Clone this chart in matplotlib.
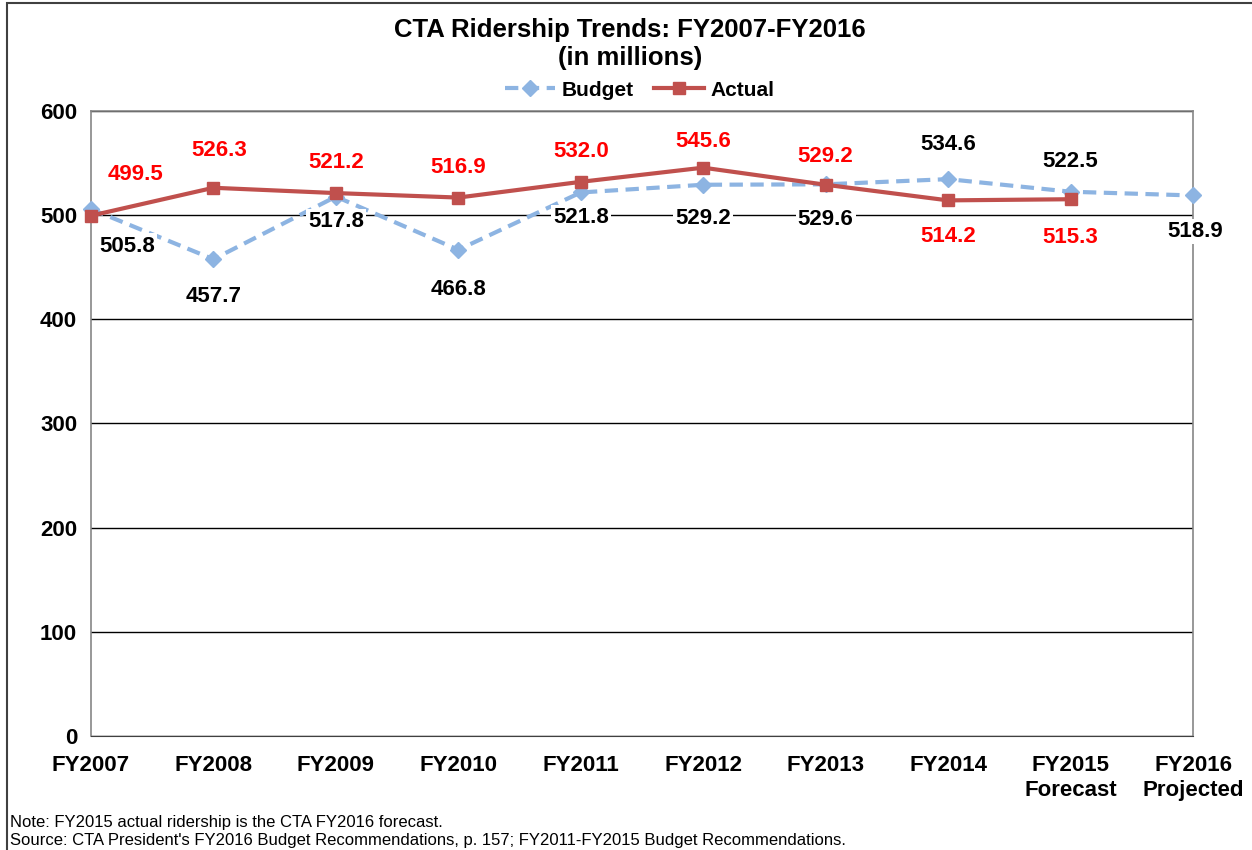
import matplotlib
matplotlib.use('Agg')
import matplotlib.pyplot as plt
from matplotlib.patches import Rectangle

plt.rcParams['font.family'] = ['Liberation Sans', 'DejaVu Sans']

# ---- data ----
years = ['FY2007', 'FY2008', 'FY2009', 'FY2010', 'FY2011', 'FY2012',
         'FY2013', 'FY2014', 'FY2015\nForecast', 'FY2016\nProjected']
budget = [505.8, 457.7, 517.8, 466.8, 521.8, 529.2, 529.6, 534.6, 522.5, 518.9]
actual = [499.5, 526.3, 521.2, 516.9, 532.0, 545.6, 529.2, 514.2, 515.3]
yticks = [0, 100, 200, 300, 400, 500, 600]

# label offsets in pixels (dx, dy), dy positive = up
budget_off = [(36, -37), (0, -37), (0, -25), (0, -40), (0, -25),
              (0, -34), (0, -35), (0, 35), (0, 30), (2, -36)]
actual_off = [(44, 41), (6, 37), (0, 31), (0, 30), (0, 30),
              (0, 26), (0, 28), (0, -36), (0, -38)]

BLUE = '#8DB4E2'
RED = '#C0504D'

fig = plt.figure(figsize=(12.52, 8.5), dpi=100)
ax = fig.add_axes([91/1252, 1 - 736/850, (1193-91)/1252, (736-111)/850])

x = list(range(len(years)))
xa = x[:len(actual)]

ax.plot(x, budget, color=BLUE, lw=3, dashes=(3.2, 1.8), marker='D',
        markersize=8, markerfacecolor=BLUE, markeredgecolor=BLUE,
        label='Budget', zorder=3, clip_on=False)
ax.plot(xa, actual, color=RED, lw=3, marker='s', markersize=9,
        markerfacecolor=RED, markeredgecolor=RED, label='Actual',
        zorder=4, clip_on=False)

box = dict(boxstyle='square,pad=0.1', facecolor='white', edgecolor='none')
for xi, v, (dx, dy) in zip(x, budget, budget_off):
    ax.annotate(f'{v:.1f}', (xi, v), xytext=(dx, dy), textcoords='offset pixels',
                ha='center', va='center', fontsize=16, fontweight='bold',
                color='black', bbox=box, zorder=6, annotation_clip=False)
for xi, v, (dx, dy) in zip(xa, actual, actual_off):
    ax.annotate(f'{v:.1f}', (xi, v), xytext=(dx, dy), textcoords='offset pixels',
                ha='center', va='center', fontsize=16, fontweight='bold',
                color='#FF0000', bbox=box, zorder=6, annotation_clip=False)

ax.set_xlim(0, len(years) - 1)
ax.set_ylim(0, 600)
ax.set_yticks(yticks)
ax.set_xticks(x)
ax.set_xticklabels(years)
ax.tick_params(axis='both', length=0, labelsize=16)
ax.tick_params(axis='x', pad=14)
ax.tick_params(axis='y', pad=10)
for lab in ax.get_xticklabels() + ax.get_yticklabels():
    lab.set_fontweight('bold')
ax.grid(True, axis='y', color='black', lw=1)
ax.set_axisbelow(True)
for s in ['left', 'top', 'right']:
    ax.spines[s].set_color('#868686')
    ax.spines[s].set_linewidth(1.2)
ax.spines['bottom'].set_color('#404040')

fig.text(0.503, 1 - 44/850, 'CTA Ridership Trends: FY2007-FY2016\n(in millions)',
         ha='center', va='center', fontsize=18.5, fontweight='bold',
         linespacing=1.25)
fig.legend(loc='center', bbox_to_anchor=(0.511, 1 - 90/850), ncol=2,
           frameon=False, prop={'size': 15, 'weight': 'bold'},
           handlelength=2.4, columnspacing=1.0, handletextpad=0.3)

fig.text(10/1252, 1 - 822/850, 'Note: FY2015 actual ridership is the CTA FY2016 forecast.',
         ha='left', va='center', fontsize=12)
fig.text(10/1252, 1 - 840/850,
         "Source: CTA President's FY2016 Budget Recommendations, p. 157; "
         "FY2011-FY2015 Budget Recommendations.",
         ha='left', va='center', fontsize=12)

fig.patches.append(Rectangle((7/1252, -0.1), 1.2, 1.1 - 3/850,
                             transform=fig.transFigure, fill=False,
                             edgecolor='#404040', lw=1.5))

fig.savefig('out.png', dpi=100)
